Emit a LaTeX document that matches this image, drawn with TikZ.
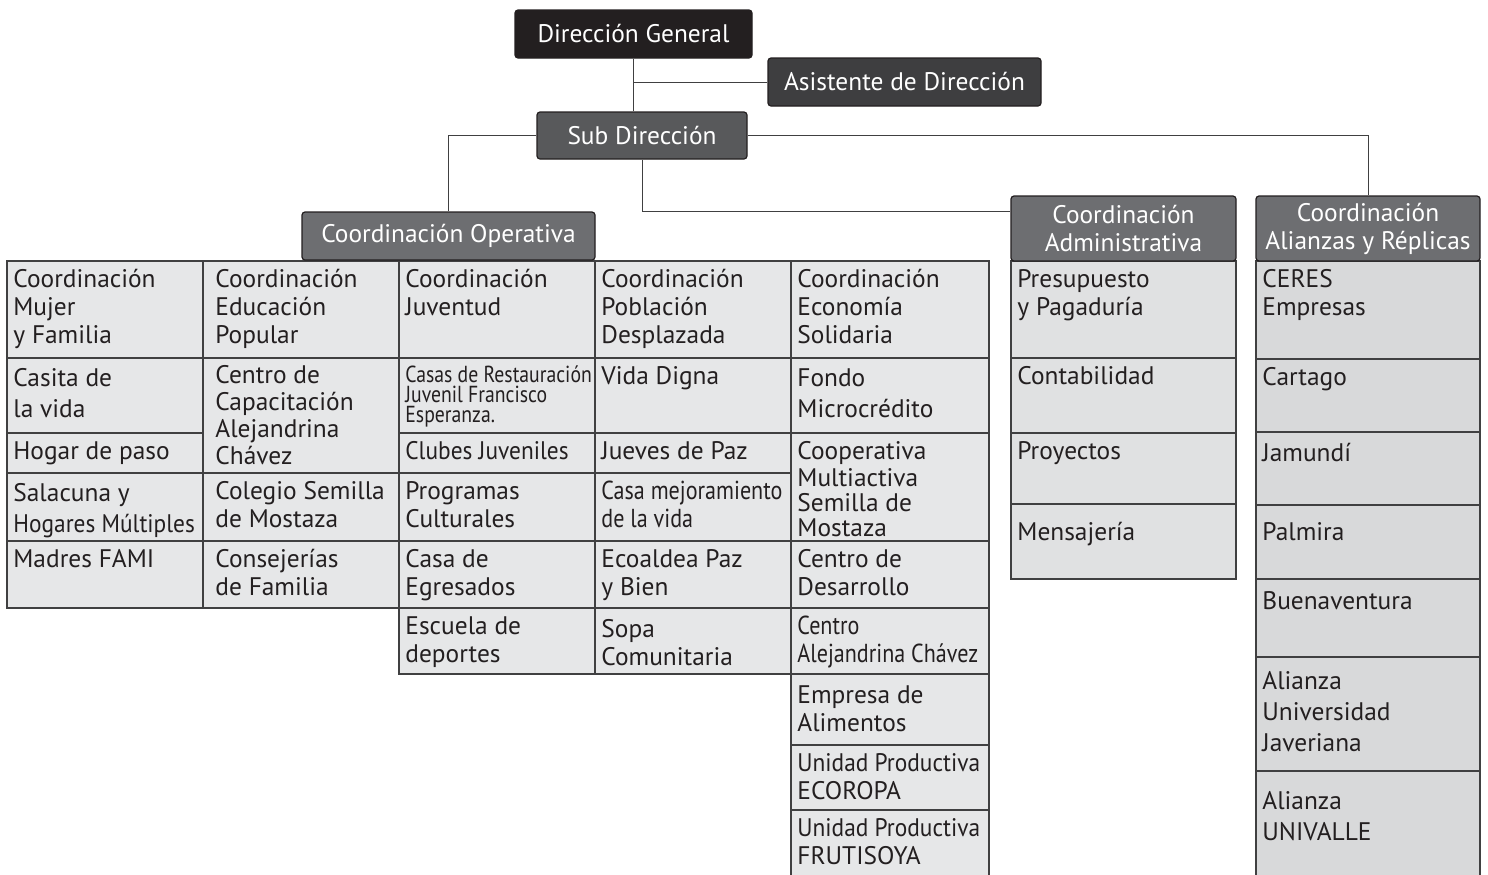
\documentclass[tikz,border=0pt]{standalone}
\usepackage{fontspec}
\setmainfont{PT Sans}
\newfontfamily\titulo{PT Sans}
\newfontfamily\estrecha[FakeStretch=0.85]{PT Sans}
\newfontfamily\compacta[FakeStretch=0.92]{PT Sans}

\definecolor{negro}{HTML}{231F20}
\definecolor{grisasist}{HTML}{3E3E40}
\definecolor{grissub}{HTML}{58595B}
\definecolor{griscoord}{HTML}{6D6E71}
\definecolor{grisceldas}{HTML}{E6E7E8}
\definecolor{grisadmin}{HTML}{E0E1E2}
\definecolor{grisalianza}{HTML}{D8D9DA}
\definecolor{borde}{HTML}{404041}

% celda de tabla: [opciones]{nombre}{x1}{y1}{x2}{y2}{texto}
\newcommand{\celda}[7][]{%
  \draw[celdabox] (#3,#4) rectangle (#5,#6);
  \node[celdatexto,#1] (#2) at (#3,#4) {\strut #7};
}

\tikzset{
  caja/.style={draw=negro, line width=0.6pt, rounded corners=1.5pt, text=white,
    inner sep=0pt, align=center, font={\titulo\fontsize{12.7}{14}\selectfont}},
  celdabox/.style={draw=borde, line width=0.75pt, fill=grisceldas},
  celdatexto/.style={anchor=north west, inner xsep=3pt, inner ysep=3pt, align=left,
    text=negro, font=\fontsize{12.7}{14}\selectfont},
  holgado/.style={font=\fontsize{12.7}{15.5}\selectfont},
  apretado/.style={font=\fontsize{12.7}{12.5}\selectfont},
  estrecho/.style={font={\estrecha\fontsize{13}{14}\selectfont}},
  linea/.style={draw=borde, line width=0.5pt},
}

\begin{document}
\begin{tikzpicture}[x=0.5pt, y=-0.5pt]
  \useasboundingbox (0,0) rectangle (1488,874);
  \clip (0,0) rectangle (1488,874);

  % Direccion
  \node[caja, fill=negro, minimum width=118.5pt, minimum height=24pt] (dg) at (633.5,34) {Dirección General};
  \node[caja, fill=grisasist, minimum width=136.5pt, minimum height=24pt] (asist) at (904.5,82) {Asistente de Dirección};
  \node[caja, fill=grissub, minimum width=105pt, minimum height=23.5pt] (sub) at (642,135.5) {Sub Dirección};

  % Coordinacion Operativa: tabla
  \celda{mujer}{7}{261}{203}{358}{Coordinación\\Mujer\\y Familia}
  \celda[holgado]{casita}{7}{358}{203}{433}{Casita de\\la vida}
  \celda{hogar}{7}{433}{203}{473}{Hogar de paso}
  \celda[holgado]{salacuna}{7}{473}{203}{541}{Salacuna y\\{\compacta Hogares Múltiples}}
  \celda{fami}{7}{541}{203}{608}{Madres FAMI}

  \begin{scope}[celdatexto/.append style={xshift=3pt}]
    \celda{educacion}{203}{261}{399}{358}{Coordinación\\Educación\\Popular}
    \celda[font=\fontsize{12.7}{13.5}\selectfont]{capacitacion}{203}{358}{399}{473}{Centro de\\Capacitación\\Alejandrina\\Chávez}
    \celda{colegio}{203}{473}{399}{541}{Colegio Semilla\\de Mostaza}
    \celda{consejerias}{203}{541}{399}{608}{Consejerías\\de Familia}
  \end{scope}

  \celda{juventud}{399}{261}{595}{358}{Coordinación\\Juventud}
  \celda[font={\estrecha\fontsize{11.6}{10}\selectfont\lineskiplimit=-10pt}, yshift=-0.5pt]{restauracion}{399}{358}{595}{433}{Casas de Restauración\\Juvenil Francisco\\Esperanza.}
  \celda{clubes}{399}{433}{595}{473}{{\compacta Clubes Juveniles}}
  \celda{programas}{399}{473}{595}{541}{Programas\\Culturales}
  \celda{egresados}{399}{541}{595}{608}{Casa de\\Egresados}
  \celda{deportes}{399}{608}{595}{674}{Escuela de\\deportes}

  \celda{desplazada}{595}{261}{791}{358}{Coordinación\\Población\\Desplazada}
  \celda{vidadigna}{595}{358}{791}{433}{Vida Digna}
  \celda{jueves}{595}{433}{791}{473}{Jueves de Paz}
  \celda[estrecho]{mejoramiento}{595}{473}{791}{541}{Casa mejoramiento\\de la vida}
  \celda{ecoaldea}{595}{541}{791}{608}{Ecoaldea Paz\\y Bien}
  \celda[yshift=-1.5pt]{sopa}{595}{608}{791}{674}{Sopa\\Comunitaria}

  \celda{solidaria}{791}{261}{989}{358}{Coordinación\\Economía\\Solidaria}
  \celda[holgado]{fondo}{791}{358}{989}{433}{Fondo\\Microcrédito}
  \celda[apretado, yshift=-1pt]{cooperativa}{791}{433}{989}{541}{Cooperativa\\Multiactiva\\Semilla de\\Mostaza}
  \celda{desarrollo}{791}{541}{989}{608}{Centro de\\Desarrollo}
  \celda[estrecho]{centroalej}{791}{608}{989}{674}{Centro\\Alejandrina Chávez}
  \celda[yshift=-1.5pt]{alimentos}{791}{674}{989}{745}{Empresa de\\Alimentos}
  \celda{ecoropa}{791}{745}{989}{810}{{\compacta Unidad Productiva}\\ECOROPA}
  \celda{frutisoya}{791}{810}{989}{890}{{\compacta Unidad Productiva}\\FRUTISOYA}

  \node[caja, fill=griscoord, minimum width=146.5pt, minimum height=24pt] (operativa) at (448.5,236) {Coordinación Operativa};

  % Coordinacion Administrativa
  \begin{scope}[celdabox/.append style={fill=grisadmin}]
    \celda{presupuesto}{1011}{261}{1236}{358}{Presupuesto\\y Pagaduría}
    \celda{contabilidad}{1011}{358}{1236}{433}{Contabilidad}
    \celda{proyectos}{1011}{433}{1236}{504}{Proyectos}
    \celda[yshift=-5pt]{mensajeria}{1011}{504}{1236}{579}{Mensajería}
  \end{scope}
  \node[caja, fill=griscoord, minimum width=112.5pt, minimum height=32.5pt] (admin) at (1123.5,228.5) {Coordinación\\Administrativa};

  % Coordinacion Alianzas y Replicas
  \begin{scope}[celdabox/.append style={fill=grisalianza}]
    \celda{ceres}{1256}{261}{1480}{359}{CERES\\Empresas}
    \celda{cartago}{1256}{359}{1480}{432}{Cartago}
    \celda[yshift=-1.5pt]{jamundi}{1256}{432}{1480}{505}{Jamundí}
    \celda[yshift=-4.5pt]{palmira}{1256}{505}{1480}{579}{Palmira}
    \celda[yshift=-2pt]{buenaventura}{1256}{579}{1480}{657}{Buenaventura}
    \celda[holgado, yshift=-2pt]{javeriana}{1256}{657}{1480}{771}{Alianza\\Universidad\\Javeriana}
    \celda[holgado, yshift=-5pt]{univalle}{1256}{771}{1480}{890}{Alianza\\UNIVALLE}
  \end{scope}
  \node[caja, fill=griscoord, minimum width=112pt, minimum height=32.5pt] (alianzas) at (1368,228.5) {Coordinación\\Alianzas y Réplicas};

  % Conectores
  \draw[linea] (dg.south) -- (dg.south |- sub.north);
  \draw[linea] (asist.west) -- (asist.west -| dg.south);
  \draw[linea] (sub.west) -| (operativa.north);
  \draw[linea] (sub.east) -| (alianzas.north);
  \draw[linea] (sub.south) |- (admin.west |- operativa.north);
\end{tikzpicture}
\end{document}
